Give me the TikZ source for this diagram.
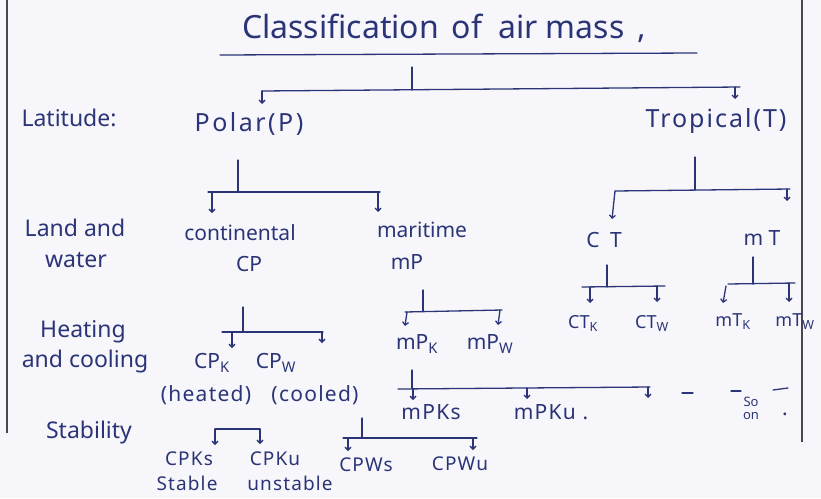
\documentclass[tikz,border=0pt]{standalone}
\usepackage{fontspec}
\setmainfont{Noto Sans}
\usetikzlibrary{arrows.meta}
\definecolor{inkc}{RGB}{42,52,118}
\definecolor{framec}{RGB}{70,70,82}
\definecolor{paperc}{RGB}{247,247,251}
\begin{document}
\begin{tikzpicture}[x=1pt,y=-1pt,
  ttl/.style={text=inkc, inner sep=0pt, font=\fontsize{32}{36}\selectfont},
  lab/.style={text=inkc, inner sep=0pt, font=\fontsize{21}{24}\selectfont},
  big/.style={text=inkc, inner sep=0pt, font=\fontsize{25}{28}\selectfont\addfontfeatures{LetterSpace=#1}},
  side/.style={text=inkc, inner sep=0pt, font=\fontsize{23}{26}\selectfont},
  sub/.style={text=inkc, inner sep=0pt, font=\fontsize{21}{24}\selectfont\addfontfeatures{LetterSpace=6}},
  low/.style={text=inkc, inner sep=0pt, font=\fontsize{19}{21}\selectfont\addfontfeatures{LetterSpace=6}},
  tiny/.style={text=inkc, inner sep=0pt, font=\fontsize{18}{20}\selectfont},
  pen/.style={draw=inkc, line width=1.3pt, line cap=round},
  arr/.style={pen, -{Straight Barb[length=3pt,width=6pt]}},
  frame/.style={draw=framec, line width=1.7pt}
]
\fill[paperc] (0,0) rectangle (821,498);
\useasboundingbox (0,0) rectangle (821,498);

% frame
\coordinate (fl0) at (7,0);   \coordinate (fl1) at (7,433);
\coordinate (fr0) at (802,0); \coordinate (fr1) at (802,442);
\draw[frame] (fl0) -- (fl1);
\draw[frame] (fr0) -- (fr1);

% title
\node[ttl] (title) at (444,28) {Classification\hspace{0.4em}of\hspace{0.5em}air mass\hspace{0.4em},};
\coordinate (ul0) at (220,55); \coordinate (ul1) at (697,53);
\draw[pen] (ul0) -- (ul1);

% row labels
\node[side] (lat)   at (69,118) {Latitude:};
\node[side] (land)  at (75,228) {Land and};
\node[side] (water) at (76,260) {water};
\node[side] (heat)  at (83,332) {Heating};
\node[side] (cool)  at (85,362) {and cooling};
\node[side] (stab)  at (89,433) {Stability};

% level 1
\node[big=10] (polar) at (249,124) {Polar(P)};
\node[big=8] (trop)  at (716,121) {Tropical(T)};

% level 2
\node[lab] (cont) at (240,233) {continental};
\node[lab] (cp)   at (249,264) {CP};
\node[lab] (mar)  at (422,230) {maritime};
\node[lab] (mp)   at (407,262) {mP};
\node[lab] (ct)   at (604,240) {C\hspace{0.5em}T};
\node[lab] (mt)   at (762,238) {m T};

% level 3
\node[tiny] (ctk) at (583,323) {CT\textsubscript{K}};
\node[tiny] (ctw) at (652,323) {CT\textsubscript{W}};
\node[tiny] (mtk) at (733,322) {mT\textsubscript{K}};
\node[tiny] (mtw) at (795,322) {mT\textsubscript{W}};
\node[lab] (cpk) at (212,363) {CP\textsubscript{K}};
\node[lab] (cpw) at (276,363) {CP\textsubscript{W}};
\node[sub] (hot) at (206,395) {(heated)};
\node[sub] (cld) at (315,395) {(cooled)};
\node[lab] (mpk) at (417,344) {mP\textsubscript{K}};
\node[lab] (mpw) at (490,344) {mP\textsubscript{W}};

% level 4
\node[sub] (mpks) at (431,412) {mPKs};
\node[sub] (mpku) at (551,412) {mPKu .};
\node[inner sep=0pt, text=inkc, font=\fontsize{13}{13}\selectfont] (so) at (751,402) {So};
\node[inner sep=0pt, text=inkc, font=\fontsize{13}{13}\selectfont] (on) at (751,416) {on};
\node[sub] (soondot) at (785,414) {.};
\node[low] (cpks) at (189,459) {CPKs};
\node[low] (cpku) at (275,459) {CPKu};
\node[low] (cpws) at (366,465) {CPWs};
\node[low] (cpwu) at (460,464) {CPWu};
\node[low] (stbl) at (187,483) {Stable};
\node[low] (unst) at (290,483) {unstable};

% --- connectors ---
% top split
\coordinate (r0) at (412,67);  \coordinate (rj) at (412,90);
\coordinate (rl) at (262,91);  \coordinate (rr) at (740,87);
\coordinate (rrb) at (735,87);
\coordinate (rla) at (262,104); \coordinate (rra) at (735,99);
\draw[pen] (r0) -- (rj);
\draw[pen] (rl) -- (rr);
\draw[arr] (rl) -- (rla);
\draw[arr] (rrb) -- (rra);

% polar split
\coordinate (p0) at (238,160); \coordinate (pj) at (238,192);
\coordinate (pl) at (208,192); \coordinate (pr) at (380,192);
\coordinate (pla) at (212,192); \coordinate (plb) at (212,213);
\coordinate (pra) at (378,192); \coordinate (prb) at (378,212);
\draw[pen] (p0) -- (pj);
\draw[pen] (pl) -- (pr);
\draw[arr] (pla) -- (plb);
\draw[arr] (pra) -- (prb);

% tropical split
\coordinate (t0) at (695,157); \coordinate (tj) at (695,190);
\coordinate (tl) at (615,191); \coordinate (tr) at (790,189);
\coordinate (tla) at (612,219); \coordinate (tra) at (787,189); \coordinate (trb) at (787,201);
\draw[pen] (t0) -- (tj);
\draw[pen] (tl) -- (tr);
\draw[arr] (tl) -- (tla);
\draw[arr] (tra) -- (trb);

% CP split
\coordinate (c0) at (243,307); \coordinate (cj) at (243,332);
\coordinate (cl) at (222,332); \coordinate (cr) at (323,332);
\coordinate (cla) at (232,332); \coordinate (clb) at (232,348);
\coordinate (cra) at (322,332); \coordinate (crb) at (322,343);
\draw[pen] (c0) -- (cj);
\draw[pen] (cl) -- (cr);
\draw[arr] (cla) -- (clb);
\draw[arr] (cra) -- (crb);

% mP split
\coordinate (m0) at (423,290); \coordinate (mj) at (423,311);
\coordinate (ml) at (405,312); \coordinate (mr) at (502,310);
\coordinate (mla) at (407,312); \coordinate (mlb) at (405,326);
\coordinate (mra) at (500,310); \coordinate (mrb) at (498,325);
\draw[pen] (m0) -- (mj);
\draw[pen] (ml) -- (mr);
\draw[arr] (mla) -- (mlb);
\draw[arr] (mra) -- (mrb);

% CT split
\coordinate (k0) at (607,265); \coordinate (kj) at (607,287);
\coordinate (kl) at (582,287); \coordinate (kr) at (665,286);
\coordinate (kla) at (590,287); \coordinate (klb) at (590,303);
\coordinate (kra) at (657,286); \coordinate (krb) at (657,302);
\draw[pen] (k0) -- (kj);
\draw[pen] (kl) -- (kr);
\draw[arr] (kla) -- (klb);
\draw[arr] (kra) -- (krb);

% mT split
\coordinate (n0) at (753,257); \coordinate (nj) at (753,284);
\coordinate (nl) at (728,284); \coordinate (nr) at (795,283);
\coordinate (nla) at (726,286); \coordinate (nlb) at (723,303);
\coordinate (nra) at (789,283); \coordinate (nrb) at (789,302);
\draw[pen] (n0) -- (nj);
\draw[pen] (nl) -- (nr);
\draw[arr] (nla) -- (nlb);
\draw[arr] (nra) -- (nrb);

% mPK split
\coordinate (q0) at (412,370); \coordinate (qj) at (412,388);
\coordinate (ql) at (398,389); \coordinate (qr) at (650,387);
\coordinate (qa) at (413,389); \coordinate (qab) at (413,400);
\coordinate (qb) at (527,388); \coordinate (qbb) at (527,399);
\coordinate (qc) at (648,387); \coordinate (qcb) at (648,398);
\draw[pen] (q0) -- (qj);
\draw[pen] (ql) -- (qr);
\draw[arr] (qa) -- (qab);
\draw[arr] (qb) -- (qbb);
\draw[arr] (qc) -- (qcb);
% dashes
\coordinate (d1a) at (682,393); \coordinate (d1b) at (693,393);
\coordinate (d2a) at (731,391); \coordinate (d2b) at (741,391);
\coordinate (d3a) at (773,390); \coordinate (d3b) at (788,388);
\draw[pen] (d1a) -- (d1b);
\draw[pen] (d2a) -- (d2b);
\draw[pen] (d3a) -- (d3b);

% CPK split
\coordinate (s1l) at (215,429); \coordinate (s1r) at (260,429);
\coordinate (s1la) at (215,445); \coordinate (s1ra) at (260,444);
\draw[pen] (s1l) -- (s1r);
\draw[arr] (s1l) -- (s1la);
\draw[arr] (s1r) -- (s1ra);

% CPW split
\coordinate (s20) at (362,418); \coordinate (s2j) at (362,438);
\coordinate (s2l) at (343,438); \coordinate (s2r) at (477,438);
\coordinate (s2la) at (348,438); \coordinate (s2lb) at (348,451);
\coordinate (s2ra) at (473,438); \coordinate (s2rb) at (473,450);
\draw[pen] (s20) -- (s2j);
\draw[pen] (s2l) -- (s2r);
\draw[arr] (s2la) -- (s2lb);
\draw[arr] (s2ra) -- (s2rb);
\end{tikzpicture}
\end{document}
